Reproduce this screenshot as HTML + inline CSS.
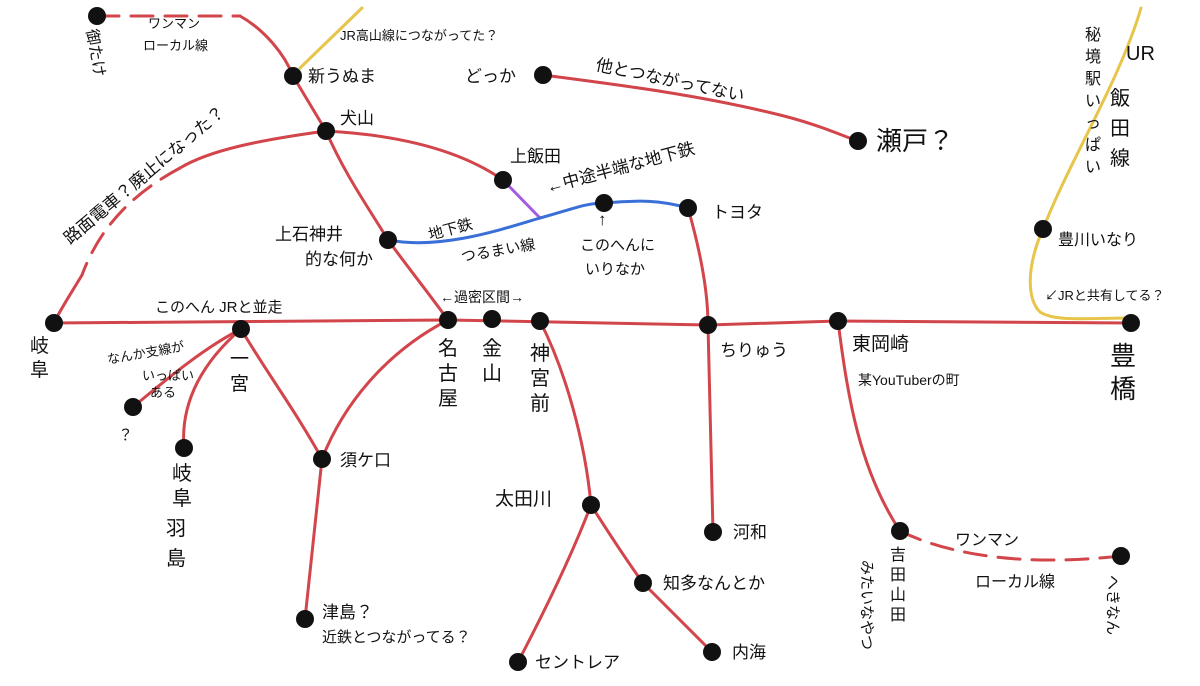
<!DOCTYPE html>
<html><head><meta charset="utf-8"><style>
html,body{margin:0;padding:0;background:#fff;}
svg{display:block;}
text{font-family:"Liberation Sans","Noto Sans CJK JP",sans-serif;fill:#111;}
</style></head><body>
<svg width="1200" height="686" viewBox="0 0 1200 686" xmlns="http://www.w3.org/2000/svg">
<g fill="none" stroke-linecap="round" stroke-linejoin="round">
<!-- yellow -->
<path d="M300,68 L362,8" stroke="#e6c54a" stroke-width="3"/>
<path d="M1141,8 C1120,80 1070,160 1043,229 C1025,270 1028,300 1040,312 C1055,322 1090,318 1131,318" stroke="#e6c54a" stroke-width="3"/>
<!-- red -->
<g stroke="#d2454b" stroke-width="3">
<path d="M97,16 L240,16" stroke-dasharray="22,12"/>
<path d="M240,16 C265,30 285,55 293,76 L326,131 C345,175 370,210 388,240 C410,270 430,295 448,320"/>
<path d="M326,131 C400,135 460,150 503,180"/>
<path d="M326,131 C260,140 210,150 180,168"/>
<path d="M180,168 C120,200 95,240 82,275" stroke-dasharray="22,12"/>
<path d="M82,275 C70,295 60,310 54,323"/>
<path d="M54,323 L448,320 L708,325 L838,321 L1131,323"/>
<path d="M543,75 C620,85 700,95 780,115 C820,125 840,135 858,141"/>
<path d="M688,208 C700,250 708,290 708,325 L713,532"/>
<path d="M241,329 C200,350 160,385 133,407"/>
<path d="M241,329 C205,360 180,400 184,448"/>
<path d="M241,329 C265,370 295,410 322,459"/>
<path d="M448,320 C390,350 345,400 322,459 L305,619"/>
<path d="M540,321 C565,370 585,440 591,505 C570,560 540,620 518,662"/>
<path d="M591,505 C610,535 630,565 643,583 C670,610 695,635 712,652"/>
<path d="M838,321 C848,400 860,470 900,531"/>
<path d="M900,531 C960,560 1040,565 1121,556" stroke-dasharray="22,12"/>
</g>
<path d="M503,180 L540,218" stroke="#a45be0" stroke-width="3"/>
<path d="M388,240 C440,250 500,230 540,218 C570,210 585,203 604,203 C640,200 660,200 688,208" stroke="#3a6fd8" stroke-width="3"/>
</g>
<g fill="#111">
<circle cx="97" cy="16" r="9"/><circle cx="293" cy="76" r="9"/><circle cx="326" cy="131" r="9"/>
<circle cx="503" cy="180" r="9"/><circle cx="388" cy="240" r="9"/><circle cx="54" cy="323" r="9"/>
<circle cx="241" cy="329" r="9"/><circle cx="448" cy="320" r="9"/><circle cx="492" cy="319" r="9"/>
<circle cx="540" cy="321" r="9"/><circle cx="708" cy="325" r="9"/><circle cx="838" cy="321" r="9"/>
<circle cx="1131" cy="323" r="9"/><circle cx="1043" cy="229" r="9"/><circle cx="543" cy="75" r="9"/>
<circle cx="858" cy="141" r="9"/><circle cx="688" cy="208" r="9"/><circle cx="604" cy="203" r="9"/>
<circle cx="133" cy="407" r="9"/><circle cx="184" cy="448" r="9"/><circle cx="322" cy="459" r="9"/>
<circle cx="305" cy="619" r="9"/><circle cx="591" cy="505" r="9"/><circle cx="713" cy="532" r="9"/>
<circle cx="643" cy="583" r="9"/><circle cx="518" cy="662" r="9"/><circle cx="712" cy="652" r="9"/>
<circle cx="900" cy="531" r="9"/><circle cx="1121" cy="556" r="9"/>
</g>
<g font-size="17">
<text x="78" y="40" font-size="16" transform="rotate(80 88 40)">御たけ</text>
<text x="148" y="28" font-size="13">ワンマン</text>
<text x="143" y="50" font-size="13">ローカル線</text>
<text x="340" y="40" font-size="13">JR高山線につながってた？</text>
<text x="308" y="82">新うぬま</text>
<text x="340" y="124">犬山</text>
<text x="465" y="82">どっか</text>
<text x="595" y="70" transform="rotate(12 595 70)">他とつながってない</text>
<text x="876" y="150" font-size="26">瀬戸？</text>
<text x="510" y="162">上飯田</text>
<text x="548" y="193" transform="rotate(-15 548 193)">←中途半端な地下鉄</text>
<text x="275" y="240">上石神井</text>
<text x="305" y="265">的な何か</text>
<text x="430" y="240" font-size="15" transform="rotate(-15 430 240)">地下鉄</text>
<text x="462" y="262" font-size="15" transform="rotate(-10 462 262)">つるまい線</text>
<text x="598" y="225">↑</text>
<text x="580" y="250" font-size="15">このへんに</text>
<text x="585" y="274" font-size="15">いりなか</text>
<text x="712" y="218">トヨタ</text>
<text x="70" y="245" font-size="17" transform="rotate(-40 70 245)">路面電車？廃止になった？</text>
<text x="155" y="312" font-size="15">このへん JRと並走</text>
<text x="440" y="302" font-size="14">←過密区間→</text>
<text x="30" y="352" font-size="19">岐</text><text x="30" y="376" font-size="19">阜</text>
<text x="108" y="364" font-size="13" transform="rotate(-10 108 364)">なんか支線が</text>
<text x="142" y="380" font-size="13">いっぱい</text>
<text x="150" y="397" font-size="13">ある</text>
<text x="118" y="440" font-size="15">？</text>
<text x="230" y="365" font-size="19">一</text><text x="230" y="390" font-size="19">宮</text>
<text x="172" y="480" font-size="20">岐</text><text x="172" y="505" font-size="20">阜</text>
<text x="166" y="535" font-size="20">羽</text><text x="166" y="565" font-size="20">島</text>
<text x="340" y="466">須ケ口</text>
<text x="322" y="618">津島？</text>
<text x="322" y="642" font-size="15">近鉄とつながってる？</text>
<text x="438" y="355" font-size="20">名</text><text x="438" y="380" font-size="20">古</text><text x="438" y="405" font-size="20">屋</text>
<text x="482" y="355" font-size="20">金</text><text x="482" y="380" font-size="20">山</text>
<text x="530" y="360" font-size="20">神</text><text x="530" y="385" font-size="20">宮</text><text x="530" y="410" font-size="20">前</text>
<text x="720" y="356">ちりゅう</text>
<text x="852" y="350" font-size="19">東岡崎</text>
<text x="858" y="385" font-size="14">某YouTuberの町</text>
<text x="495" y="505" font-size="19">太田川</text>
<text x="733" y="538">河和</text>
<text x="663" y="589">知多なんとか</text>
<text x="535" y="668">セントレア</text>
<text x="732" y="658">内海</text>
<text x="890" y="560" font-size="16">吉</text><text x="890" y="580" font-size="16">田</text><text x="890" y="600" font-size="16">山</text><text x="890" y="620" font-size="16">田</text>
<text x="862" y="560" font-size="15" transform="rotate(90 862 560)">みたいなやつ</text>
<text x="955" y="545" font-size="16">ワンマン</text>
<text x="975" y="587" font-size="16">ローカル線</text>
<text x="1108" y="575" font-size="15" transform="rotate(90 1108 575)">へきなん</text>
<text x="1058" y="245" font-size="16">豊川いなり</text>
<text x="1045" y="300" font-size="13">↙JRと共有してる？</text>
<text x="1110" y="365" font-size="26">豊</text><text x="1110" y="398" font-size="26">橋</text>
<text x="1126" y="60" font-size="20">UR</text>
<text x="1110" y="105" font-size="20">飯</text><text x="1110" y="135" font-size="20">田</text><text x="1110" y="165" font-size="20">線</text>
<text x="1085" y="40" font-size="16">秘</text><text x="1085" y="62" font-size="16">境</text><text x="1085" y="84" font-size="16">駅</text><text x="1085" y="106" font-size="16">い</text><text x="1085" y="128" font-size="16">っ</text><text x="1085" y="150" font-size="16">ぱ</text><text x="1085" y="172" font-size="16">い</text>
</g>
</svg>
</body></html>
